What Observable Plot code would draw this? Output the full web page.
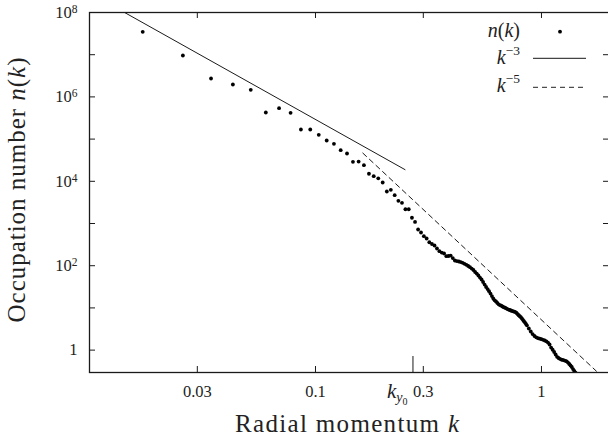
<!DOCTYPE html>
<html><head><meta charset="utf-8">
<script src="https://cdn.jsdelivr.net/npm/d3@7"></script>
<script src="https://cdn.jsdelivr.net/npm/@observablehq/plot@0.6"></script>
<style>
html,body{margin:0;padding:0;background:#fff;overflow:hidden;}
svg text{font-family:"Liberation Serif",serif;}
</style></head><body>
<script>
// occupation number data n(k)
const kData = [0.0172,0.0259,0.0345,0.0431,0.0517,0.0603,0.0690,0.0776,0.0862,0.0948,
0.1034,0.1121,0.1207,0.1293,0.1379,0.1465,0.1552,0.1638,0.1724,0.1810,
0.1896,0.1983,0.2069,0.2155,0.2241,0.2327,0.2414,0.2500,0.2586,0.2672,
0.2758,0.2845,0.2931,0.3017,0.3103,0.3189,0.3276,0.3362,0.3448,0.3534,
0.3620,0.3707,0.3793,0.3879,0.3965,0.4051,0.4138,0.4224,0.4310,0.4396,
0.4482,0.4569,0.4655,0.4741,0.4827,0.4913,0.5000,0.5086,0.5172,0.5258,
0.5344,0.5431,0.5517,0.5603,0.5689,0.5775,0.5862,0.5948,0.6034,0.6120,
0.6206,0.6293,0.6379,0.6465,0.6551,0.6637,0.6724,0.6810,0.6896,0.6982,
0.7068,0.7155,0.7241,0.7327,0.7413,0.7499,0.7586,0.7672,0.7758,0.7844,
0.7930,0.8017,0.8103,0.8189,0.8275,0.8361,0.8448,0.8534,0.8620,
0.8792,0.8965,0.9137,0.9310,0.9482,0.9654,0.9827,0.9999,1.0172,1.0344,
1.0516,1.0689,1.0861,1.1034,1.1206,1.1378,1.1551,1.1723,1.1896,1.2068,
1.2240,1.2413,1.2585,1.2758,1.2930,1.3102,1.3275,1.3447,1.3620,1.3792,
1.3964,1.4137];
const nData = [3.49e7,9.57e6,2.73e6,1.97e6,1.47e6,4.27e5,5.40e5,4.20e5,1.69e5,1.69e5,
1.26e5,9.27e4,7.74e4,5.46e4,4.56e4,2.90e4,2.94e4,2.41e4,1.51e4,1.32e4,
1.18e4,9.37e3,5.73e3,6.30e3,4.69e3,3.45e3,3.10e3,2.18e3,2.18e3,1.37e3,
1090,721,612,500,441,360,327,301,256,221,
205,195,168,170,174,152,133,129,126,122,
117,111,105,98.4,92.2,85.8,79.1,70.9,65.3,58.6,
52.5,47.1,41.1,35.8,31.3,28.0,24.9,21.9,19.1,16.7,
15.1,14.2,13.1,12.2,11.7,11.3,10.8,10.4,10.1,9.79,
9.37,9.12,8.92,8.68,8.50,8.31,8.13,7.96,7.57,7.13,
6.71,6.36,6.03,5.61,5.22,4.84,4.51,4.20,3.87,
3.25,2.76,2.40,2.16,2.01,1.92,1.87,1.82,1.75,1.69,
1.62,1.51,1.36,1.15,1.02,0.902,0.787,0.694,0.650,0.622,
0.598,0.586,0.573,0.557,0.543,0.508,0.469,0.432,0.398,0.356,
0.324,0.294];

// reference power laws (end points)
const k3K = [0.0143, 0.249];
const k3N = [1.0e8, 1.89e4];
const k5K = [0.162, 1.75];
const k5N = [4.66e4, 0.317];

// marker k_{y0}
const kY0 = [0.27];

// ticks
const xTicks = [0.03, 0.1, 0.3, 1];
const xTickLabels = ["0.03", "0.1", "0.3", "1"];
const yTicks = [1, 10, 1e2, 1e3, 1e4, 1e5, 1e6, 1e7, 1e8];
const yLabelTicks = [1, 1e2, 1e4, 1e6, 1e8];
const yTickLabels = ["1", "10^2", "10^4", "10^6", "10^8"];

const points = kData.map((k, i) => ({k, n: nData[i]}));
const k3 = k3K.map((k, i) => ({k, n: k3N[i]}));
const k5 = k5K.map((k, i) => ({k, n: k5N[i]}));

const W = 608, H = 443, ML = 89, MR = -1, MT = 12, MB = 71;
const pw = W - ML - MR, ph = H - MT - MB;
const ink = "#1a1a1a";

const plot = Plot.plot({
  width: W, height: H,
  marginLeft: ML, marginRight: MR, marginTop: MT, marginBottom: MB,
  style: {fontFamily: '"Liberation Serif", serif', fontSize: "16.5px", color: ink, background: "#fff"},
  x: {type: "log", domain: [0.01, 2]},
  y: {type: "log", domain: [0.295, 1e8]},
  marks: [
    Plot.axisX(xTicks, {anchor: "bottom", tickSize: 0, tickPadding: 13, label: null,
      tickFormat: d => xTickLabels[xTicks.indexOf(d)], fontSize: 16.5, fill: "#222"}),
    Plot.axisY(yLabelTicks, {anchor: "left", tickSize: 0, tickPadding: 12, label: null,
      tickFormat: d => yTickLabels[yLabelTicks.indexOf(d)], fontSize: 16.5, fill: "#222"}),
    Plot.ruleX(xTicks, {insetTop: ph - 6, stroke: ink}),
    Plot.ruleX(xTicks, {insetBottom: ph - 6, stroke: ink}),
    Plot.ruleY(yTicks, {insetRight: pw - 6, stroke: ink}),
    Plot.ruleY(yTicks, {insetLeft: pw - 6, stroke: ink}),
    Plot.ruleX(kY0, {insetTop: ph - 16, stroke: ink}),
    Plot.line(k3, {x: "k", y: "n", stroke: ink, strokeWidth: 1, clip: true}),
    Plot.line(k5, {x: "k", y: "n", stroke: ink, strokeWidth: 1, strokeDasharray: "5,4", clip: true}),
    Plot.dot(points, {x: "k", y: "n", r: 1.9, fill: "#000", stroke: null, clip: true}),
    Plot.frame({stroke: ink, strokeWidth: 1.3})
  ]
});
document.body.appendChild(plot);

const svg = d3.select(plot);
// superscripts on y tick labels
svg.selectAll('g[aria-label="y-axis tick label"] text').each(function() {
  const s = this.textContent;
  if (s.includes("^")) {
    const [b, e] = s.split("^");
    this.textContent = b;
    d3.select(this).append("tspan").attr("dy", "-0.42em").attr("font-size", "11.5px").text(e);
  }
});

const ser = '"Liberation Serif", serif';
function txt(x, y, size, anchor) {
  return svg.append("text").attr("x", x).attr("y", y).attr("font-size", size)
    .attr("font-family", ser).attr("text-anchor", anchor).attr("fill", "#222");
}
// axis titles
const xl = txt(347, 432, 25, "middle").attr("textLength", 224).attr("lengthAdjust", "spacing");
xl.append("tspan").text("Radial momentum ");
xl.append("tspan").attr("font-style", "italic").text("k");

const yl = svg.append("text").attr("transform", "translate(25,190) rotate(-90)")
  .attr("font-size", 25).attr("font-family", ser).attr("text-anchor", "middle").attr("fill", "#222")
  .attr("textLength", 265).attr("lengthAdjust", "spacing");
yl.append("tspan").text("Occupation number ");
yl.append("tspan").attr("font-style", "italic").text("n");
yl.append("tspan").text("(");
yl.append("tspan").attr("font-style", "italic").text("k");
yl.append("tspan").text(")");

// k_{y0} label
const ky = txt(387, 398, 21, "start");
ky.append("tspan").attr("font-style", "italic").text("k");
ky.append("tspan").attr("font-style", "italic").attr("font-size", 14).attr("dy", 4).text("y");
ky.append("tspan").attr("font-size", 10).attr("dy", 3).text("0");

// legend
const l1 = txt(520, 37, 20, "end");
l1.append("tspan").attr("font-style", "italic").text("n");
l1.append("tspan").text("(");
l1.append("tspan").attr("font-style", "italic").text("k");
l1.append("tspan").text(")");
svg.append("circle").attr("cx", 560).attr("cy", 31.7).attr("r", 1.9).attr("fill", "#000");

const l2 = txt(520, 63.5, 20, "end");
l2.append("tspan").attr("font-style", "italic").text("k");
l2.append("tspan").attr("font-size", 13.5).attr("dy", -9).text("\u22123");
svg.append("line").attr("x1", 533).attr("x2", 586).attr("y1", 58.3).attr("y2", 58.3)
  .attr("stroke", "#444").attr("stroke-width", 1.2);

const l3 = txt(520, 92, 20, "end");
l3.append("tspan").attr("font-style", "italic").text("k");
l3.append("tspan").attr("font-size", 13.5).attr("dy", -9).text("\u22125");
svg.append("line").attr("x1", 533).attr("x2", 583).attr("y1", 87.3).attr("y2", 87.3)
  .attr("stroke", "#222").attr("stroke-width", 1).attr("stroke-dasharray", "5,4");
</script>
</body></html>
